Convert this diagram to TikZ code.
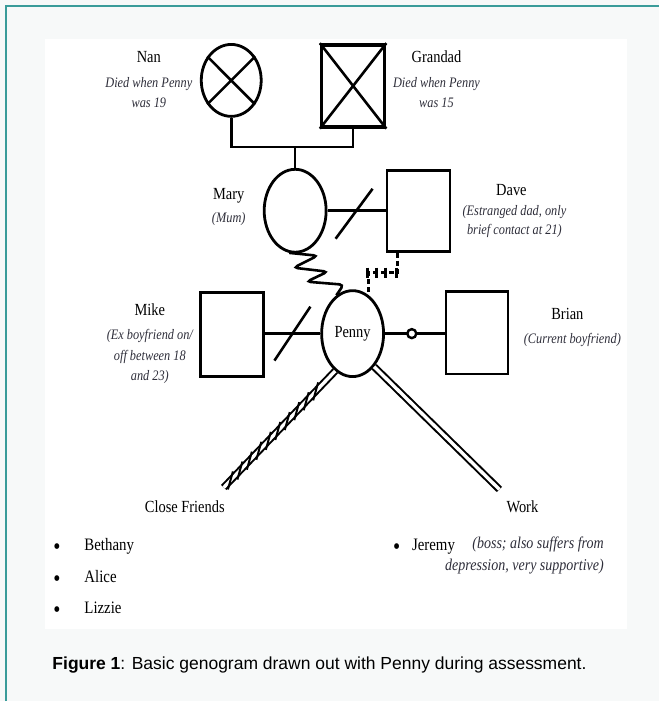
\documentclass[tikz,border=0pt]{standalone}
\usepackage{fontspec}
\setmainfont{Liberation Serif}[FakeStretch=0.85]
\newfontfamily\captionfont{Liberation Sans}
\usetikzlibrary{shapes.geometric, positioning, calc}

\definecolor{frameteal}{HTML}{3A9C9A}
\definecolor{pagegray}{HTML}{F7F9F9}
\definecolor{notegray}{HTML}{2E2E3A}

\begin{document}
\begin{tikzpicture}[x=1pt, y=-1pt,
    % Define the style of the female nodes
    female/.style={ellipse, draw, line width=2.8pt, inner sep=0pt},
    % Define the style of the male nodes
    male/.style={rectangle, draw, line width=2.8pt, inner sep=0pt},
    % Define the style of the family lines
    family/.style={line width=2.6pt},
    % Define the style of the name labels
    namelabel/.style={font=\fontsize{17}{20}\selectfont},
    % Define the style of the italic notes
    notelabel/.style={font=\fontsize{14.5}{19.5}\selectfont\itshape, align=center, text=notegray},
    % Define the style of the double lines to friends and work
    tie/.style={draw, line width=2pt, double=white, double distance=3.4pt},
    % Define the style of the bullet lists
    listlabel/.style={font=\fontsize{17.5}{20}\selectfont, anchor=base west},
    bulletmark/.style={font=\fontsize{24}{24}\selectfont, anchor=base west}
  ]

  % page and frame
  \fill[pagegray] (0,0) rectangle (660,702);
  \fill[white] (45,39) rectangle (628,630);
  \draw[frameteal, line width=1.6pt] (6,702) -- (6,6) -- (660,6);
  \useasboundingbox (0,0) rectangle (660,702);

  % Grandparents
  \node[female, minimum width=60pt, minimum height=72pt] (nan) at (231.5,80.5) {};
  \node[male, line width=3.6pt, minimum width=63pt, minimum height=82pt] (grandad) at (353.5,86) {};
  \draw[line width=2.6pt] (nan.45) -- (nan.225) (nan.135) -- (nan.315);
  \draw[line width=2.6pt] (grandad.north west) -- (grandad.south east)
    (grandad.north east) -- (grandad.south west);
  \node[namelabel] (nanname) at (149,57) {Nan};
  \node[notelabel] (nannote) at (149,92.5) {Died when Penny\\was 19};
  \node[namelabel] (grandadname) at (437,57) {Grandad};
  \node[notelabel] (grandadnote) at (437,92.5) {Died when Penny\\was 15};

  % Parents
  \coordinate (kids) at (295.5,147);
  \node[female, minimum width=62pt, minimum height=83pt] (mary) at (295.5,211) {};
  \node[male, minimum width=63pt, minimum height=81pt] (dave) at (419,211) {};
  \draw[family] (nan.south) |- (kids) -| (grandad.south);
  \draw[family] (kids) -- (mary.north);
  \draw[family] (mary.east) -- (dave.west);
  \draw[family] ($(mary.east)!.5!(dave.west)$) ++(-21,28) -- ++(37,-50);
  \node[namelabel] (maryname) at (229,196) {Mary};
  \node[notelabel] (marynote) at (229,219) {(Mum)};
  \node[namelabel] (davename) at (512,190) {Dave};
  \node[notelabel] (davenote) at (515,222) {(Estranged dad, only\\brief contact at 21)};

  % Penny and partners
  \node[female, minimum width=62pt, minimum height=86pt,
    font=\fontsize{17}{20}\selectfont] (penny) at (353,334) {Penny};
  \node[male, minimum width=63pt, minimum height=84pt] (mike) at (232,335) {};
  \node[male, minimum width=62pt, minimum height=83pt] (brian) at (477.5,333) {};
  \draw[family] (mike.east |- penny.west) -- (penny.west);
  \draw[family] ($(mike.east |- penny.west)!.5!(penny.west)$) ++(-18,27) -- ++(36,-54);
  \draw[family] (penny.east) -- (brian.west |- penny.east)
    node[circle, draw, fill=white, line width=2.4pt, inner sep=0pt,
      minimum size=9pt, pos=0.45] (together) {};
  \node[namelabel] (mikename) at (150,310) {Mike};
  \node[notelabel, font=\fontsize{14.5}{20.5}\selectfont\itshape] (mikenote) at (150,357)
    {(Ex boyfriend on/\\off between 18\\and 23)};
  \node[namelabel] (brianname) at (568,314) {Brian};
  \node[notelabel] (briannote) at (573,340) {(Current boyfriend)};

  % Mary to Penny (conflict) and Dave to Penny (cut off)
  \draw[line width=2.6pt, rounded corners=4pt] (mary.262) -- (318,256) -- (294,268)
    -- (328,272) -- (307,282) -- (344,285) -- (penny.113);
  \draw[line width=2.6pt, dash pattern=on 5pt off 3pt]
    ([xshift=12pt]dave.south west) -- ++(0,20) -| (penny.68);
  \foreach \tx in {368,377,386,397}
    \draw[line width=2.6pt] (\tx,268) -- (\tx,278);

  % Friends and work
  \coordinate (friendsend) at (224,488);
  \coordinate (workend) at (500,490);
  \draw[tie] (penny.245) -- (friendsend);
  \draw[tie] (penny.303) -- (workend);
  \foreach \p in {0.06,0.145,...,0.87}
    \draw[line width=2pt] ($(friendsend)!\p!(penny.245)$) ++(-2.5,9) -- ++(5,-18);
  \node[namelabel] (friendsname) at (185,507) {Close Friends};
  \node[namelabel] (workname) at (523,507) {Work};

  % Lists
  \foreach \y/\who in {551/Bethany, 583/Alice, 614/Lizzie} {
    \node[bulletmark] at (50,\y+4) {•};
    \node[listlabel] at (81,\y) {\who};
  }
  \node[bulletmark] (jeremybullet) at (390,555) {•};
  \node[listlabel] (jeremy) at (409,551) {Jeremy};
  \node[notelabel, font=\fontsize{16.5}{22}\selectfont\itshape, align=right,
    anchor=east] (jeremynote) at (608,556) {(boss; also suffers from\\depression, very supportive)};

  % Caption
  \node[anchor=west, font=\captionfont\fontsize{17.5}{20}\selectfont] (caption) at (49,666)
    {\textbf{Figure 1}: Basic genogram drawn out with Penny during assessment.};
\end{tikzpicture}
\end{document}
